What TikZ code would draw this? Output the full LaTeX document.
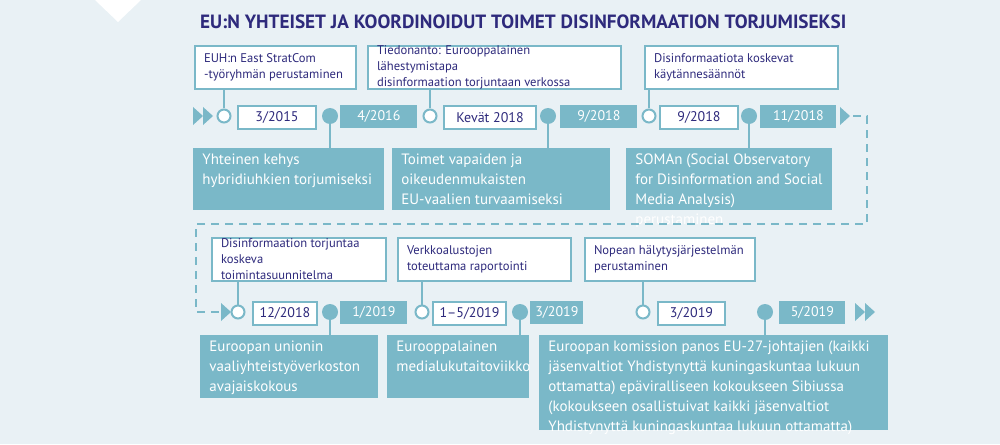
\documentclass[tikz,border=0pt]{standalone}
\usepackage{fontspec}
\setmainfont{PT Sans}
\definecolor{bg}{HTML}{E9F1F5}
\definecolor{teal}{HTML}{7AB8C8}
\definecolor{navy}{HTML}{2E2A7C}
\tikzset{
 wbox/.style={draw=teal,line width=1pt,fill=white,text=navy,inner sep=0pt,font=\fontsize{6.3}{8}\selectfont},
 tbox/.style={fill=teal,text=white,inner sep=0pt,font=\fontsize{7.5}{10}\selectfont},
 wdate/.style={draw=teal,line width=1pt,fill=white,text=navy,inner sep=0pt,font=\fontsize{7}{8}\selectfont},
 tdate/.style={fill=teal,text=white,inner sep=0pt,font=\fontsize{7}{8}\selectfont},
 ocirc/.style={circle,draw=teal,line width=1pt,fill=white,minimum size=6.5pt,inner sep=0pt},
 fcirc/.style={circle,fill=teal,minimum size=8pt,inner sep=0pt},
 link/.style={teal,line width=1pt},
 tri/.style={fill=teal},
}
\newcommand\bx[8]{%
 \pgfmathsetmacro\bw{(#5-#3)*0.5}\pgfmathsetmacro\bh{(#6-#4)*0.5}%
 \pgfmathsetmacro\tw{(#5-#3)*0.5-9}\pgfmathsetmacro\ih{(#6-#4)*0.5-5}%
 \node[#1,minimum width=\bw pt,minimum height=\bh pt,anchor=north west] (#2) at (#3,#4)
 {\begin{minipage}[c][\ih pt][#7]{\tw pt}\raggedright #8\end{minipage}};}
\newcommand\dt[7]{%
 \pgfmathsetmacro\bw{(#5-#3)*0.5}\pgfmathsetmacro\bh{(#6-#4)*0.5}%
 \node[#1,minimum width=\bw pt,minimum height=\bh pt,anchor=north west] (#2) at (#3,#4) {#7};}
\begin{document}
\begin{tikzpicture}[x=0.5pt,y=-0.5pt]
\fill[bg] (0,0) rectangle (1000,444);
\useasboundingbox (0,0) rectangle (1000,444);
\fill[white] (95,0) -- (141,0) -- (118,22) -- cycle;
\node[anchor=west,text=navy,font=\fontsize{9.6}{11}\bfseries] (title) at (193,22) {EU:N YHTEISET JA KOORDINOIDUT TOIMET DISINFORMAATION TORJUMISEKSI};
% row 1
\fill[tri] (193,107) -- (203,116) -- (193,125) -- cycle;
\fill[tri] (203,107) -- (213,116) -- (203,125) -- cycle;
\bx{wbox}{e1}{194}{45}{355}{88}{c}{EUH:n East StratCom\\-työryhmän perustaminen}
\bx{wbox}{e2}{367}{45}{620}{88}{c}{Tiedonanto: Eurooppalainen lähestymistapa\\disinformaation torjuntaan verkossa}
\bx{wbox}{e3}{644}{45}{837}{88}{c}{Disinformaatiota koskevat\\käytännesäännöt}
\bx{tbox}{t1}{193}{148}{384}{210}{t}{Yhteinen kehys\\hybridiuhkien torjumiseksi}
\bx{tbox}{t2}{392}{148}{610}{210}{t}{Toimet vapaiden ja\\oikeudenmukaisten\\EU-vaalien turvaamiseksi}
\bx{tbox}{t3}{626}{148}{832}{210}{t}{SOMAn (Social Observatory\\for Disinformation and Social\\Media Analysis) perustaminen}
\node[ocirc] (c1) at (224,116) {};
\node[ocirc] (c2) at (430,116) {};
\node[ocirc] (c3) at (649,116) {};
\node[fcirc] (f1) at (330,116) {};
\node[fcirc] (f2) at (548,116) {};
\node[fcirc] (f3) at (749,116) {};
\draw[link] (c1.north) -- (c1.north |- e1.south);
\draw[link] (c2.north) -- (c2.north |- e2.south);
\draw[link] (c3.north) -- (c3.north |- e3.south);
\draw[link] (f1.south) -- (f1.south |- t1.north);
\draw[link] (f2.south) -- (f2.south |- t2.north);
\draw[link] (f3.south) -- (f3.south |- t3.north);
\dt{wdate}{d1}{237}{105}{315}{128}{3/2015}
\dt{tdate}{d2}{340}{105}{417}{128}{4/2016}
\dt{wdate}{d3}{443}{105}{535}{128}{Kevät 2018}
\dt{tdate}{d4}{560}{105}{637}{128}{9/2018}
\dt{wdate}{d5}{659}{105}{737}{128}{9/2018}
\dt{tdate}{d6}{760}{105}{836}{128}{11/2018}
\fill[tri] (840,107) -- (850,116) -- (840,125) -- cycle;
\coordinate (ds) at (853,116);
\coordinate (de) at (221,312);
\draw[link,dashed,dash pattern=on 4pt off 3pt] (ds) -- (867,116) -- (867,224) -- (196,224) -- (196,312) -- (de);
\fill[tri] (221,303) -- (231,312) -- (221,321) -- cycle;
% row 2
\bx{wbox}{e4}{211}{237}{385}{280}{c}{Disinformaation torjuntaa\\koskeva toimintasuunnitelma}
\bx{wbox}{e5}{397}{237}{570}{280}{c}{Verkkoalustojen\\toteuttama raportointi}
\bx{wbox}{e6}{584}{237}{754}{280}{c}{Nopean hälytysjärjestelmän\\perustaminen}
\bx{tbox}{t4}{200}{335}{378}{398}{t}{Euroopan unionin\\vaaliyhteistyöverkoston\\avajaiskokous}
\bx{tbox}{t5}{387}{335}{529}{398}{t}{Eurooppalainen\\medialukutaitoviikko}
\bx{tbox}{t6}{539}{335}{888}{430}{t}{Euroopan komission panos EU-27-johtajien (kaikki jäsenvaltiot Yhdistynyttä kuningaskuntaa lukuun ottamatta) epäviralliseen kokoukseen Sibiussa (kokoukseen osallistuivat kaikki jäsenvaltiot Yhdistynyttä kuningaskuntaa lukuun ottamatta)}
\node[ocirc] (c4) at (238,312) {};
\node[ocirc] (c5) at (422,312) {};
\node[ocirc] (c6) at (643,312) {};
\node[fcirc] (f4) at (330,312) {};
\node[fcirc] (f5) at (520,312) {};
\node[fcirc] (f6) at (765,312) {};
\draw[link] (c4.north) -- (c4.north |- e4.south);
\draw[link] (c5.north) -- (c5.north |- e5.south);
\draw[link] (c6.north) -- (c6.north |- e6.south);
\draw[link] (f4.south) -- (f4.south |- t4.north);
\draw[link] (f5.south) -- (f5.south |- t5.north);
\draw[link] (f6.south) -- (f6.south |- t6.north);
\dt{wdate}{d7}{252}{301}{316}{324}{12/2018}
\dt{tdate}{d8}{340}{301}{407}{324}{1/2019}
\dt{wdate}{d9}{432}{301}{505}{324}{1--5/2019}
\dt{tdate}{d10}{530}{301}{583}{324}{3/2019}
\dt{wdate}{d11}{657}{301}{724}{324}{3/2019}
\dt{tdate}{d12}{779}{301}{845}{324}{5/2019}
\fill[tri] (855,303) -- (865,312) -- (855,321) -- cycle;
\fill[tri] (865,303) -- (875,312) -- (865,321) -- cycle;
\end{tikzpicture}
\end{document}
